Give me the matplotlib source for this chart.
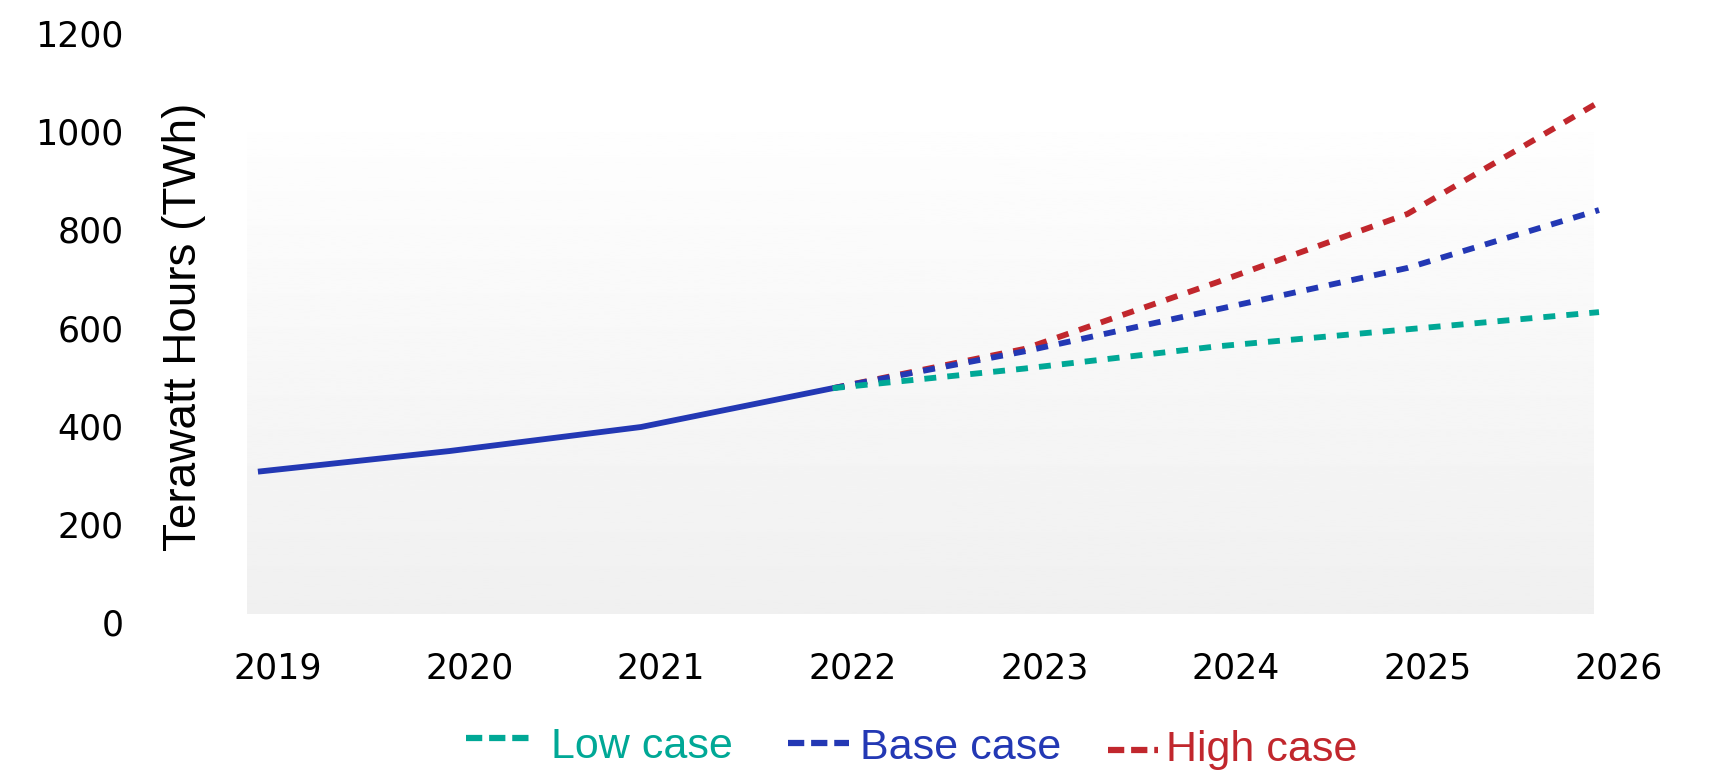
import matplotlib

matplotlib.use("Agg")
import matplotlib.pyplot as plt
import matplotlib.transforms as mtransforms
import numpy as np
from matplotlib.lines import Line2D

# data-centre electricity demand, TWh
hist_years = [2019, 2020, 2021, 2022]
hist_twh = [290, 332, 381, 460]

proj_years = [2022, 2023, 2024, 2025, 2026]
low_case = [460, 500, 545, 580, 615]
base_case = [460, 535, 620, 705, 823]
high_case = [460, 540, 675, 815, 1043]

y_ticks = [0, 200, 400, 600, 800, 1000, 1200]
x_ticks = [2019, 2020, 2021, 2022, 2023, 2024, 2025, 2026]

TEAL = "#00a896"
BLUE = "#2338b4"
RED = "#c1272d"

plt.rcParams["font.family"] = ["DejaVu Sans"]

fig = plt.figure(figsize=(17.11, 7.73), dpi=100)
ax = fig.add_axes([247 / 1711, 159 / 773, 1352 / 1711, 589 / 773])
ax.set_xlim(2018.943, 2025.97)
ax.set_ylim(0, 1200)
ax.set_facecolor("white")
for s in ax.spines.values():
    s.set_visible(False)

# soft vertical gradient panel behind the lines
grad = np.linspace(0.94, 0.995, 256).reshape(-1, 1)
ax.imshow(grad, cmap="gray", vmin=0, vmax=1, origin="lower", aspect="auto",
          extent=[2018.943, 2025.97, 0, 982], zorder=0)

lw = 4.2
dash = (2.05, 1.9)
ax.plot(hist_years, hist_twh, color=BLUE, lw=lw, solid_capstyle="butt",
        clip_on=False, zorder=3)
ax.plot(proj_years, high_case, color=RED, lw=lw, dashes=dash,
        dash_capstyle="butt", clip_on=False, zorder=3)
ax.plot(proj_years, base_case, color=BLUE, lw=lw, dashes=dash,
        dash_capstyle="butt", clip_on=False, zorder=4)
ax.plot(proj_years, low_case, color=TEAL, lw=lw, dashes=dash,
        dash_capstyle="butt", clip_on=False, zorder=5)

ax.set_xticks(x_ticks)
ax.set_xticklabels([str(y) for y in x_ticks])
ax.set_yticks(y_ticks)
ax.set_yticklabels([str(v) for v in y_ticks])
ax.tick_params(axis="both", length=0, labelsize=25, labelcolor="black")
ax.tick_params(axis="y", pad=89)
ax.tick_params(axis="x", pad=27)

# labels sit a little right / below their ticks
dx = mtransforms.ScaledTranslation(20 / 100, 0, fig.dpi_scale_trans)
dy = mtransforms.ScaledTranslation(0, -8 / 100, fig.dpi_scale_trans)
for lbl in ax.get_xticklabels():
    lbl.set_transform(lbl.get_transform() + dx)
for lbl in ax.get_yticklabels():
    lbl.set_transform(lbl.get_transform() + dy)

fig.text(184 / 1711, 1 - 327 / 773, "Terawatt Hours (TWh)", rotation=90,
         ha="center", va="center", fontsize=33, family="Liberation Sans")

# hand-placed legend row
W, H = 1711, 773
legend_items = [
    ("Low case", TEAL, (466, 531, 738), (551, 758)),
    ("Base case", BLUE, (788, 849, 743), (860, 759)),
    ("High case", RED, (1108, 1158, 750), (1166, 761)),
]
for name, col, (x0, x1, yh), (xt, yt) in legend_items:
    fig.add_artist(Line2D([x0 / W, x1 / W], [1 - yh / H, 1 - yh / H],
                          transform=fig.transFigure, color=col, lw=4.5,
                          dashes=(2.6, 1.1), dash_capstyle="butt"))
    fig.text(xt / W, 1 - yt / H, name, color=col, ha="left", va="baseline",
             fontsize=31, family="Liberation Sans")

fig.savefig("out.png", dpi=100, facecolor="white")
